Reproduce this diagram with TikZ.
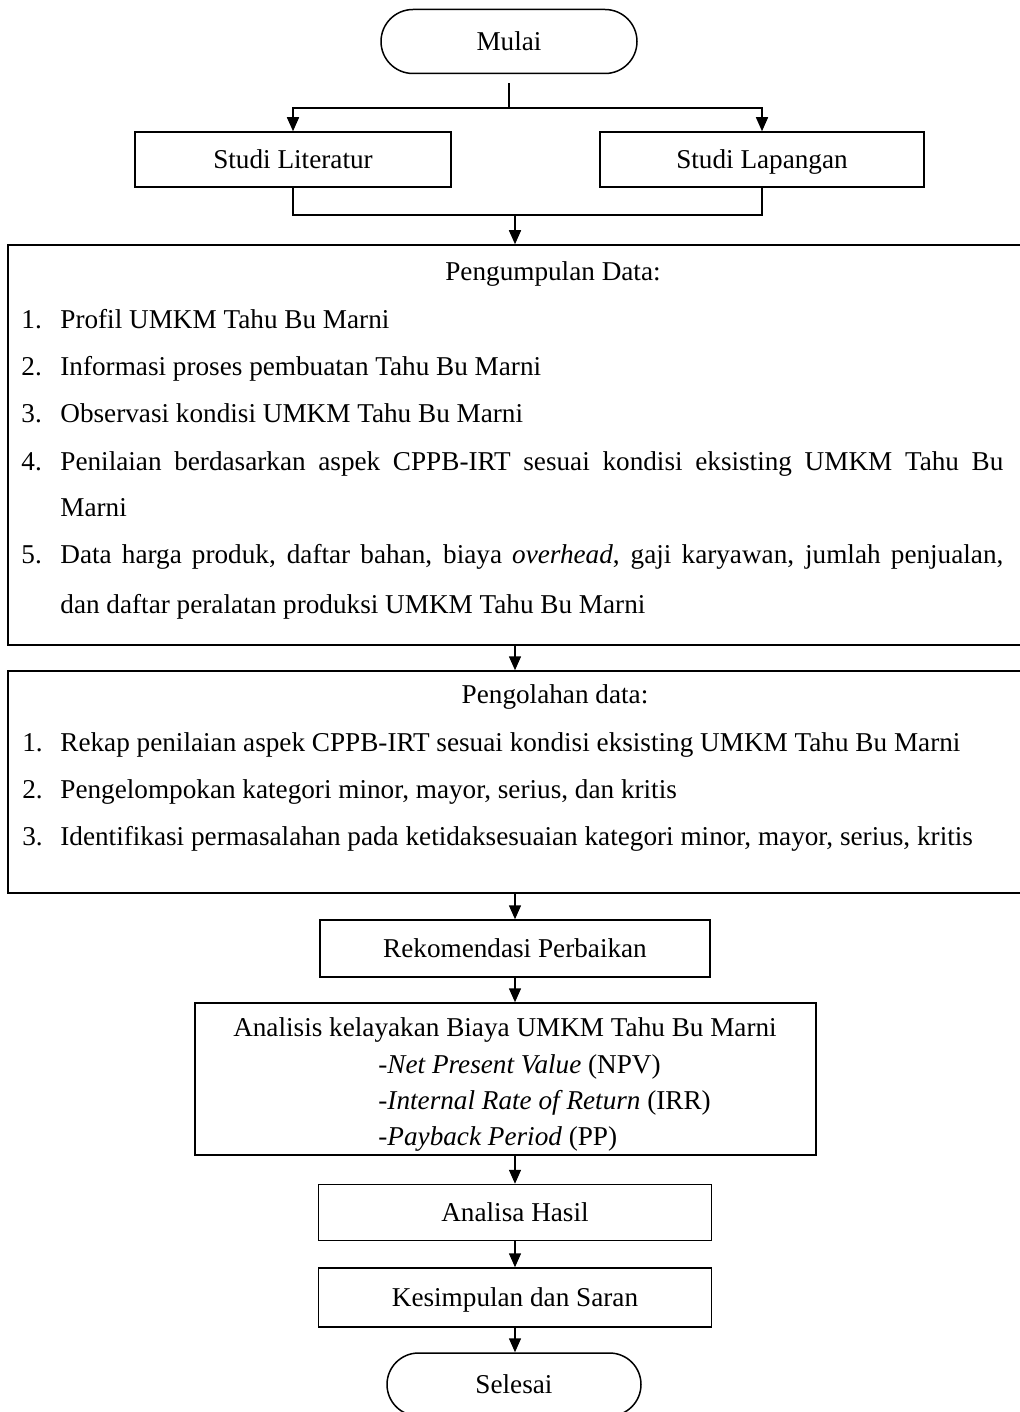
\documentclass[tikz,border=0pt]{standalone}
\usepackage{fontspec}
\setmainfont{Liberation Serif}
\usetikzlibrary{arrows.meta,shapes.misc}

\tikzset{
  box/.style={draw, line width=0.75pt, inner sep=0pt, text height=0.86em, text depth=0pt},
  term/.style={box, rounded rectangle},
  txt/.style={inner sep=0pt, anchor=west, text height=0.86em, text depth=0pt},
  line/.style={line width=0.75pt},
  arr/.style={line, -{Triangle[length=7pt,width=6pt]}}
}

\begin{document}
\begin{tikzpicture}[x=0.5pt,y=-0.5pt,font=\fontsize{13.6}{16}\selectfont]
\useasboundingbox (0,0) rectangle (1019,1412);

% start and studies
\node[term, minimum width=128pt, minimum height=32pt] (mulai) at (509,41.5) {Mulai};
\node[box, minimum width=158pt, minimum height=27.5pt] (lit) at (293,159.5) {Studi Literatur};
\node[box, minimum width=162pt, minimum height=27.5pt] (lap) at (762,159.5) {Studi Lapangan};
\coordinate (split) at (509,108);
\coordinate (merge) at (515,215);

% pengumpulan data
\node[box, minimum width=508pt, minimum height=200pt] (kumpul) at (516,445) {};
\node[txt, anchor=center] (kumpulT) at (553,272) {Pengumpulan Data:};
\node[txt] (k1n) at (21,320) {1.};
\node[txt] (k1) at (60,320) {Profil UMKM Tahu Bu Marni};
\node[txt] (k2n) at (21,367) {2.};
\node[txt] (k2) at (60,367) {Informasi proses pembuatan Tahu Bu Marni};
\node[txt] (k3n) at (21,414) {3.};
\node[txt] (k3) at (60,414) {Observasi kondisi UMKM Tahu Bu Marni};
\node[txt] (k4n) at (21,462) {4.};
\node[txt] (k4) at (60,462) {\makebox[471.5pt][s]{Penilaian berdasarkan aspek CPPB-IRT sesuai kondisi eksisting UMKM Tahu Bu}};
\node[txt] (k4b) at (60,508) {Marni};
\node[txt] (k5n) at (21,555) {5.};
\node[txt] (k5) at (60,555) {\makebox[471.5pt][s]{Data harga produk, daftar bahan, biaya \textit{overhead}, gaji karyawan, jumlah penjualan,}};
\node[txt] (k5b) at (60,605) {dan daftar peralatan produksi UMKM Tahu Bu Marni};

% pengolahan data
\node[box, minimum width=508pt, minimum height=111pt] (olah) at (516,782) {};
\node[txt, anchor=center] (olahT) at (555,695) {Pengolahan data:};
\node[txt] (o1n) at (22,743) {1.};
\node[txt] (o1) at (60,743) {Rekap penilaian aspek CPPB-IRT sesuai kondisi eksisting UMKM Tahu Bu Marni};
\node[txt] (o2n) at (22,790) {2.};
\node[txt] (o2) at (60,790) {Pengelompokan kategori minor, mayor, serius, dan kritis};
\node[txt] (o3n) at (22,837) {3.};
\node[txt] (o3) at (60,837) {Identifikasi permasalahan pada ketidaksesuaian kategori minor, mayor, serius, kritis};

% rekomendasi dan analisis
\node[box, minimum width=195pt, minimum height=28.5pt] (rekom) at (515,948.5) {Rekomendasi Perbaikan};
\node[box, minimum width=310.5pt, minimum height=76pt] (ana) at (505.5,1079) {};
\node[txt, anchor=center] (anaT) at (505,1028) {Analisis kelayakan Biaya UMKM Tahu Bu Marni};
\node[txt] (a1) at (378,1065) {-\textit{Net Present Value} (NPV)};
\node[txt] (a2) at (378,1101) {-\textit{Internal Rate of Return} (IRR)};
\node[txt] (a3) at (378,1137) {-\textit{Payback Period} (PP)};

% hasil dan selesai
\node[box, minimum width=196.5pt, minimum height=28pt] (hasil) at (515,1212.5) {Analisa Hasil};
\node[box, minimum width=196.5pt, minimum height=29.5pt] (simpul) at (515,1297.5) {Kesimpulan dan Saran};
\node[term, minimum width=127pt, minimum height=31.5pt] (selesai) at (514,1384.5) {Selesai};

% connectors
\draw[line, shorten <=4.5pt] (mulai.south) -- (split);
\draw[arr] (split) -| (lit.north);
\draw[arr] (split) -| (lap.north);
\draw[line] (lit.south) |- (merge);
\draw[line] (lap.south) |- (merge);
\draw[arr] (merge) -- (merge |- kumpul.north);
\draw[arr] (merge |- kumpul.south) -- (merge |- olah.north);
\draw[arr] (merge |- olah.south) -- (rekom.north);
\draw[arr] (rekom.south) -- (rekom.south |- ana.north);
\draw[arr] (hasil.north |- ana.south) -- (hasil.north);
\draw[arr] (hasil.south) -- (simpul.north);
\draw[arr] (simpul.south) -- (simpul.south |- selesai.north);
\end{tikzpicture}
\end{document}
